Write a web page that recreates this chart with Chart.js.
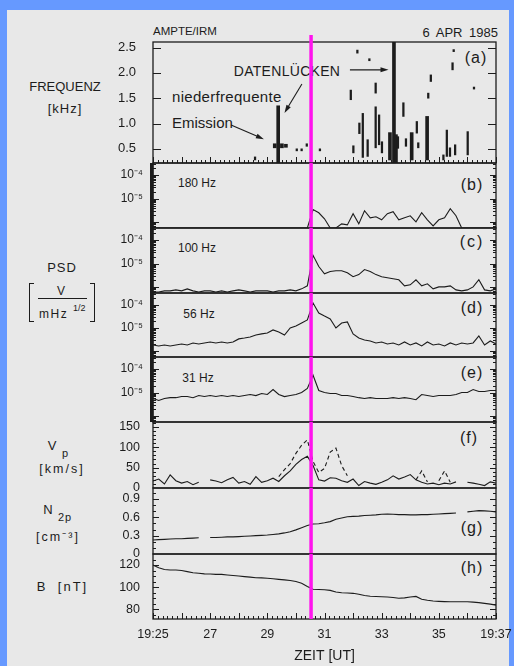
<!DOCTYPE html>
<html>
<head>
<meta charset="utf-8">
<title>AMPTE/IRM 6 APR 1985</title>
<script src="https://cdn.jsdelivr.net/npm/chart.js@4.4.1/dist/chart.umd.min.js"></script>
<style>
  body { margin: 0; width: 514px; height: 666px; overflow: hidden; background: #6699ff;
         font-family: "Liberation Sans", Arial, sans-serif; color: #1c1c1c; }
  #sheet { position: absolute; left: 7px; top: 10px; width: 502px; height: 656px; background: #e8e8e8; }
  canvas { position: absolute; left: 0; }
  .t { position: absolute; white-space: nowrap; line-height: 1; }
  .c { transform: translate(-50%, -50%); }
  .l { transform: translate(0, -50%); }
  .brk { position: absolute; width: 4px; border: 0 solid #1c1c1c; }
</style>
</head>
<body>
<div id="sheet"></div>

<div class="t l" style="left:153px;top:32px;font-size:11.5px">AMPTE/IRM</div>
<div class="t l" style="right:16px;top:32px;font-size:13px;word-spacing:3px">6 APR 1985</div>

<div class="t c" style="left:65px;top:86px;font-size:13px">FREQUENZ</div>
<div class="t c" style="left:65px;top:108px;font-size:13px;letter-spacing:1px">[kHz]</div>

<div class="t c" style="left:62px;top:267px;font-size:13px;letter-spacing:1px">PSD</div>
<div class="brk" style="left:29px;top:283px;height:37px;border-width:1.5px 0 1.5px 1.5px"></div>
<div class="brk" style="left:90px;top:283px;height:37px;border-width:1.5px 1.5px 1.5px 0"></div>
<div class="t c" style="left:61px;top:291px;font-size:12px">V</div>
<div style="position:absolute;left:38px;top:298px;width:49px;height:1.2px;background:#1c1c1c"></div>
<div class="t l" style="left:39px;top:314px;font-size:12px;letter-spacing:1.5px">mHz</div>
<div class="t l" style="left:73px;top:308px;font-size:9px">1/2</div>

<div class="t c" style="left:52px;top:445px;font-size:13px">V</div>
<div class="t c" style="left:65px;top:453px;font-size:11px">p</div>
<div class="t c" style="left:62px;top:469px;font-size:12.5px;letter-spacing:2px">[km/s]</div>

<div class="t c" style="left:48px;top:509px;font-size:13px">N</div>
<div class="t c" style="left:65px;top:517px;font-size:11px;letter-spacing:1px">2p</div>
<div class="t c" style="left:58px;top:537px;font-size:12.5px;letter-spacing:2px">[cm⁻³]</div>

<div class="t c" style="left:41px;top:586px;font-size:13px">B</div>
<div class="t c" style="left:73px;top:586px;font-size:13px;letter-spacing:2px">[nT]</div>

<div class="t c" style="left:197px;top:183px;font-size:12px">180 Hz</div>
<div class="t c" style="left:197px;top:248px;font-size:12px">100 Hz</div>
<div class="t c" style="left:199px;top:314px;font-size:12px">56 Hz</div>
<div class="t c" style="left:198px;top:378px;font-size:12px">31 Hz</div>

<div class="t c" style="left:476px;top:58px;font-size:16px;letter-spacing:1px">(a)</div>
<div class="t c" style="left:472px;top:185px;font-size:16px;letter-spacing:1px">(b)</div>
<div class="t c" style="left:472px;top:242px;font-size:16px;letter-spacing:2px">(c)</div>
<div class="t c" style="left:472px;top:308px;font-size:16px;letter-spacing:1px">(d)</div>
<div class="t c" style="left:472px;top:373px;font-size:16px;letter-spacing:1px">(e)</div>
<div class="t c" style="left:469px;top:438px;font-size:16px;letter-spacing:1px">(f)</div>
<div class="t c" style="left:472px;top:528px;font-size:16px;letter-spacing:1px">(g)</div>
<div class="t c" style="left:472px;top:568px;font-size:16px;letter-spacing:1px">(h)</div>

<div class="t c" style="left:287px;top:71px;font-size:14px;letter-spacing:0.3px">DATENLÜCKEN</div>
<div class="t l" style="left:172px;top:96px;font-size:15px;letter-spacing:0.3px">niederfrequente</div>
<div class="t l" style="left:172px;top:122px;font-size:15px">Emission</div>

<canvas id="pa" width="514" height="141" style="top:30px"></canvas>
<canvas id="pb" width="514" height="85" style="top:153px"></canvas>
<canvas id="pc" width="514" height="85" style="top:218px"></canvas>
<canvas id="pd" width="514" height="84" style="top:283px"></canvas>
<canvas id="pe" width="514" height="85" style="top:347px"></canvas>
<canvas id="pf" width="514" height="86" style="top:412px"></canvas>
<canvas id="pg" width="514" height="86" style="top:478px"></canvas>
<canvas id="ph" width="514" height="122" style="top:544px"></canvas>

<script>
// minutes after 19:25 UT, one sample every 12 s
const minutes = [0,0.2,0.4,0.6,0.8,1,1.2,1.4,1.6,1.8,2,2.2,2.4,2.6,2.8,3,3.2,3.4,3.6,3.8,
  4,4.2,4.4,4.6,4.8,5,5.2,5.4,5.6,5.8,6,6.2,6.4,6.6,6.8,7,7.2,7.4,7.6,7.8,
  8,8.2,8.4,8.6,8.8,9,9.2,9.4,9.6,9.8,10,10.2,10.4,10.6,10.8,11,11.2,11.4,11.6,11.8,12];

const timeTicks = [0, 2, 4, 6, 8, 10, 12];
const timeLabels = ['19:25', '27', '29', '31', '33', '35', '19:37'];

// shock crossing, 19:30:32 UT
const eventMinute = 5.53;

// (a) wave bursts in the spectrum: time, lower and upper frequency (kHz)
const burstTimes = [3.57,5.03,5.20,5.38,5.84,6.92,7.01,7.15,7.22,7.34,7.51,7.57,7.79,7.79,7.91,
  8.01,8.57,8.76,8.85,9.23,9.28,9.63,9.72,10.16,10.28,10.39,10.48,10.52,10.57,11.01,11.23];
const burstLow = [0.28,0.46,0.46,0.55,0.46,1.47,0.42,2.39,0.80,0.33,0.35,2.24,1.60,0.52,0.58,
  0.42,0.51,1.14,0.55,0.81,0.52,1.50,1.83,0.28,0.35,0.35,2.06,2.42,0.38,0.38,1.68];
const burstHigh = [0.34,0.50,0.50,0.60,0.50,1.66,0.56,2.45,1.01,1.20,0.68,2.28,1.80,1.33,1.17,
  0.64,0.74,1.41,0.70,1.04,0.62,1.60,1.96,0.38,0.87,0.52,2.20,2.46,0.58,0.84,1.72];

// (a) strong emission and data gaps
const strongTimes = [4.38,4.26,4.51,4.65,8.29,8.43,8.50,9.05,9.59];
const strongLow = [0.22,0.52,0.52,0.53,0.28,0.22,0.22,0.28,0.28];
const strongHigh = [1.35,0.60,0.60,0.59,0.82,2.61,0.78,0.82,1.14];
const freqTicks = [0.5, 1, 1.5, 2, 2.5];

// (b)-(e) electric field spectral density, in units of 1e-6 V/(m Hz^1/2)
const psd180 = [0.56,0.56,0.56,0.56,0.56,0.56,0.56,0.56,0.56,0.56,
  0.56,0.56,0.56,0.56,0.56,0.56,0.56,0.56,0.56,0.56,
  0.56,0.56,0.56,0.56,0.56,0.56,0.56,0.56,3.4,2.5,
  1.38,0.56,0.56,0.84,0.76,2.27,0.84,3.06,1.52,1.68,
  1.25,2.27,2.77,1.25,1.52,1.86,1.02,2.5,1.25,0.69,
  1.25,1.52,3.7,1.86,0.56,0.56,0.56,0.56,0.56,0.56,
  0.56];
const psd100 = [0.62,0.62,0.69,0.69,0.76,0.69,0.84,0.69,0.62,0.69,
  0.69,0.62,0.69,0.62,0.69,0.76,0.69,0.62,0.69,0.69,
  0.69,0.62,0.69,0.69,0.76,0.69,0.84,1.13,22.5,7.5,
  3.7,4.6,5.0,5.0,4.1,2.77,3.4,5.6,4.6,3.4,
  2.77,2.5,2.27,2.05,1.13,1.25,2.05,1.13,1.38,0.84,
  1.02,1.02,1.13,0.76,0.69,0.76,1.02,2.05,0.76,0.69,
  0.84];
const psd56 = [1.86,1.68,1.86,1.68,1.86,2.05,1.86,2.27,2.05,2.27,
  2.5,2.27,2.5,2.27,2.5,3.4,3.7,4.1,5.0,5.6,
  6.1,8.3,6.8,5.0,10.1,12.3,16.6,22.5,122,45,
  33,24.8,10.1,16.6,18.4,5.6,3.7,3.06,2.77,2.27,
  2.5,2.05,2.27,1.86,2.5,1.86,2.27,1.68,2.5,1.86,
  2.05,1.68,2.27,1.86,2.27,2.05,2.27,4.6,1.86,2.77,
  2.05];
const psd31 = [5.6,4.6,5.6,6.1,6.1,6.8,6.8,6.1,7.5,6.8,
  7.5,6.8,7.5,6.8,7.5,6.8,7.5,8.3,7.5,9.15,
  8.3,13.6,8.3,6.8,7.5,8.3,10.1,15.1,55,12.3,
  10.1,9.15,9.15,7.5,7.5,6.8,6.1,5.6,6.1,5.6,
  5.6,5.6,6.1,5.6,6.1,5.6,5.0,8.3,7.5,6.8,
  7.5,7.5,7.5,8.3,10.1,10.1,13.6,11.2,11.2,12.3,
  12.3];
const psdTicks = [10, 100];
const psdTickLabels = ['10⁻⁵', '10⁻⁴'];

// (f) proton bulk speed, km/s (solid) and second estimate (dashed)
const vp = [17,22,10,32,18,12,16,8,14,null,
  20,17,13,20,26,12,16,9,28,14,
  18,24,16,30,42,58,70,78,55,20,
  17,25,24,18,14,22,6,16,12,9,
  14,20,30,22,27,33,20,14,10,12,
  8,12,10,15,null,14,12,9,6,15,
  12];
const vpAlt = [null,null,null,null,null,null,null,null,null,null,
  null,null,null,null,null,null,null,null,null,null,
  null,null,28,45,60,85,105,118,65,38,
  48,88,98,55,30,null,null,null,null,null,
  null,null,null,null,null,null,20,42,15,null,
  18,42,14,null,null,null,null,null,null,null,
  null];
const vpTicks = [0, 50, 100, 150];

// (g) proton density, cm^-3
const n2p = [0.23,0.235,0.24,0.245,0.25,0.25,0.255,0.26,0.265,null,
  0.27,0.27,0.275,0.28,0.28,0.285,0.29,0.295,0.30,0.305,
  0.31,0.32,0.33,0.345,0.365,0.395,0.43,0.465,0.49,0.495,
  0.51,0.53,0.57,0.59,0.61,0.615,0.62,0.63,0.635,0.64,
  0.65,0.655,0.65,0.645,0.645,0.64,0.64,0.645,0.645,0.65,
  0.655,0.66,0.665,0.67,null,0.69,0.70,0.71,0.705,0.70,
  0.69];
const nTicks = [0, 0.3, 0.6, 0.9];

// (h) magnetic field magnitude, nT
const bField = [120,117.5,116,115.5,115.5,115,114,113,112.5,112,
  111.8,111.5,111.5,111,110.5,110,109.5,109,108.5,108.3,
  108,107.5,107,106.5,106,105,103.5,100.5,98,97.8,
  97.5,97,95.5,94.8,94.6,94.3,93.5,92.3,91.6,91.4,
  91.2,91,90.5,89.8,90.2,91,91.5,89,88,87.3,
  87,86.8,86.7,86.6,86.6,86.7,86.3,85.9,85.2,84.5,
  83.6];
const bTicks = [80, 100, 120];

const INK = '#1c1c1c';
const MAGENTA = '#ff14ee';

Chart.defaults.font.family = '"Liberation Sans", Arial, sans-serif';
Chart.defaults.color = INK;

// box around each panel with inward tick marks
const framePlugin = {
  id: 'frame',
  afterDatasetsDraw(chart, args, opts) {
    const { ctx, chartArea: a, scales: { x, y } } = chart;
    ctx.save();
    ctx.strokeStyle = INK;
    ctx.lineWidth = 1.3;
    ctx.strokeRect(a.left, a.top, a.right - a.left, a.bottom - a.top);
    ctx.lineWidth = 1;
    const mark = (vals, len) => {
      ctx.beginPath();
      vals.forEach(v => {
        const py = Math.round(y.getPixelForValue(v)) + 0.5;
        if (py < a.top || py > a.bottom) return;
        ctx.moveTo(a.left, py); ctx.lineTo(a.left + len, py);
        ctx.moveTo(a.right, py); ctx.lineTo(a.right - len, py);
      });
      ctx.stroke();
    };
    mark(opts.major || [], opts.majorLen || 6);
    mark(opts.minor || [], 3);
    if (opts.timeTicks) {
      ctx.beginPath();
      for (let i = 0; i <= 72; i++) {
        const px = Math.round(x.getPixelForValue(i / 6)) + 0.5;
        const len = i % 6 === 0 ? 6 : 3;
        ctx.moveTo(px, a.bottom); ctx.lineTo(px, a.bottom - len);
      }
      ctx.stroke();
    }
    if (opts.bar) {
      ctx.fillStyle = INK;
      ctx.fillRect(a.left - 3, a.top, 3.5, a.bottom - a.top);
    }
    ctx.restore();
  }
};

// vertical marker at the shock crossing, drawn through every panel
const eventPlugin = {
  id: 'event',
  afterDraw(chart, args, opts) {
    const { ctx, chartArea: a, scales: { x } } = chart;
    const px = x.getPixelForValue(eventMinute);
    ctx.save();
    ctx.strokeStyle = MAGENTA;
    ctx.lineWidth = 3.5;
    ctx.beginPath();
    ctx.moveTo(px, a.top - (opts.above || 0));
    ctx.lineTo(px, a.bottom);
    ctx.stroke();
    ctx.restore();
  }
};

// annotation arrows, given in time / frequency coordinates
const arrowPlugin = {
  id: 'arrows',
  afterDatasetsDraw(chart, args, opts) {
    const { ctx, scales: { x, y } } = chart;
    (opts.list || []).forEach(ar => {
      const x1 = x.getPixelForValue(ar.from[0]), y1 = y.getPixelForValue(ar.from[1]);
      const x2 = x.getPixelForValue(ar.to[0]), y2 = y.getPixelForValue(ar.to[1]);
      const ang = Math.atan2(y2 - y1, x2 - x1);
      const c = Math.cos(ang), s = Math.sin(ang);
      ctx.save();
      ctx.strokeStyle = INK; ctx.fillStyle = INK; ctx.lineWidth = 1.1;
      ctx.beginPath(); ctx.moveTo(x1, y1); ctx.lineTo(x2 - 6 * c, y2 - 6 * s); ctx.stroke();
      ctx.beginPath();
      ctx.moveTo(x2, y2);
      ctx.lineTo(x2 - 8 * c + 2.5 * s, y2 - 8 * s - 2.5 * c);
      ctx.lineTo(x2 - 8 * c - 2.5 * s, y2 - 8 * s + 2.5 * c);
      ctx.closePath(); ctx.fill();
      ctx.restore();
    });
  }
};

function panelOptions(p) {
  const x = {
    type: 'linear', min: 0, max: 12, offset: false, display: !!p.time,
    grid: { display: false, drawTicks: false }, border: { display: false }
  };
  if (p.time) Object.assign(x, p.time);
  return {
    animation: false,
    responsive: false,
    events: [],
    layout: { padding: { top: p.padTop ?? 10, bottom: p.padBottom ?? 10, left: 0, right: 18 } },
    plugins: {
      legend: { display: false },
      tooltip: { enabled: false },
      frame: p.frame,
      event: { above: p.above || 0 },
      arrows: { list: p.arrows || [] }
    },
    scales: {
      x,
      y: Object.assign({
        position: 'left',
        grid: { display: false, drawTicks: false },
        border: { display: false },
        // fixed gutter for the tick labels; labels may hang over the panel edges
        afterFit: s => { s.width = 153; s.paddingTop = 0; s.paddingBottom = 0; }
      }, p.y)
    }
  };
}

function trace(values, extra) {
  return Object.assign({
    data: values.map((v, i) => ({ x: minutes[i], y: v })),
    borderColor: INK, borderWidth: 1.1, pointRadius: 0, tension: 0, spanGaps: false, fill: false
  }, extra || {});
}

function fixedTicks(list) {
  return s => { s.ticks = list.map(v => ({ value: v })); };
}

const plugins = [framePlugin, eventPlugin];

// (a) frequency-time spectrum
new Chart(document.getElementById('pa'), {
  type: 'bar',
  data: {
    datasets: [
      { data: burstTimes.map((t, i) => ({ x: t, y: [burstLow[i], burstHigh[i]] })),
        backgroundColor: INK, barThickness: 1.6, grouped: false },
      { data: strongTimes.map((t, i) => ({ x: t, y: [strongLow[i], strongHigh[i]] })),
        backgroundColor: INK, barThickness: 3, grouped: false }
    ]
  },
  options: panelOptions({
    padTop: 12, padBottom: 8, above: 7,
    y: { type: 'linear', min: 0.22, max: 2.61, afterBuildTicks: fixedTicks(freqTicks),
         ticks: { padding: 17, font: { size: 13 }, callback: v => v.toFixed(1) } },
    frame: { major: freqTicks, majorLen: 8, timeTicks: true },
    arrows: [
      { from: [6.89, 2.06], to: [8.24, 2.06] },
      { from: [5.21, 1.78], to: [4.60, 1.21] },
      { from: [2.73, 0.97], to: [3.88, 0.69] }
    ]
  }),
  plugins: [framePlugin, eventPlugin, arrowPlugin]
});

// (b)-(e) spectral density channels
const psdMinor = [0.6,0.7,0.8,0.9,2,3,4,5,6,7,8,9,20,30,40,50,60,70,80,90,200,300];
function psdPanel(id, values) {
  new Chart(document.getElementById(id), {
    type: 'line',
    data: { datasets: [trace(values)] },
    options: panelOptions({
      y: { type: 'logarithmic', min: 0.56, max: 330, afterBuildTicks: fixedTicks(psdTicks),
           ticks: { padding: 10, font: { size: 12 }, callback: (v, i) => psdTickLabels[i] } },
      frame: { major: [1, 10, 100], minor: psdMinor, bar: true }
    }),
    plugins
  });
}
psdPanel('pb', psd180);
psdPanel('pc', psd100);
psdPanel('pd', psd56);
psdPanel('pe', psd31);

// (f) proton speed
new Chart(document.getElementById('pf'), {
  type: 'line',
  data: { datasets: [trace(vp), trace(vpAlt, { borderDash: [4, 3] })] },
  options: panelOptions({
    y: { type: 'linear', min: 0, max: 162, afterBuildTicks: fixedTicks(vpTicks),
         ticks: { padding: 13, font: { size: 12.5 } } },
    frame: { major: vpTicks, minor: [10,20,30,40,60,70,80,90,110,120,130,140,160] }
  }),
  plugins
});

// (g) proton density
new Chart(document.getElementById('pg'), {
  type: 'line',
  data: { datasets: [trace(n2p)] },
  options: panelOptions({
    y: { type: 'linear', min: 0, max: 1.08, afterBuildTicks: fixedTicks(nTicks),
         ticks: { padding: 13, font: { size: 12.5 }, callback: v => (v === 0 ? '0' : v.toFixed(1)) } },
    frame: { major: nTicks, minor: [0.1, 0.2, 0.4, 0.5, 0.7, 0.8, 1.0] }
  }),
  plugins
});

// (h) magnetic field, with the time axis
new Chart(document.getElementById('ph'), {
  type: 'line',
  data: { datasets: [trace(bField)] },
  options: panelOptions({
    padBottom: 0,
    y: { type: 'linear', min: 71, max: 130, afterBuildTicks: fixedTicks(bTicks),
         ticks: { padding: 13, font: { size: 12.5 } } },
    frame: { major: bTicks, minor: [75, 85, 90, 95, 105, 110, 115, 125], timeTicks: true },
    time: {
      afterBuildTicks: fixedTicks(timeTicks),
      // keep the same plotting width as the panels above
      afterFit: s => { s.height = 47; s.paddingLeft = 0; s.paddingRight = 0; },
      ticks: { padding: 8, font: { size: 12.5 }, maxRotation: 0, autoSkip: false,
               callback: (v, i) => timeLabels[i] },
      title: { display: true, text: 'ZEIT [UT]', font: { size: 14 }, padding: { top: 0, bottom: 1 } }
    }
  }),
  plugins
});
</script>
</body>
</html>
